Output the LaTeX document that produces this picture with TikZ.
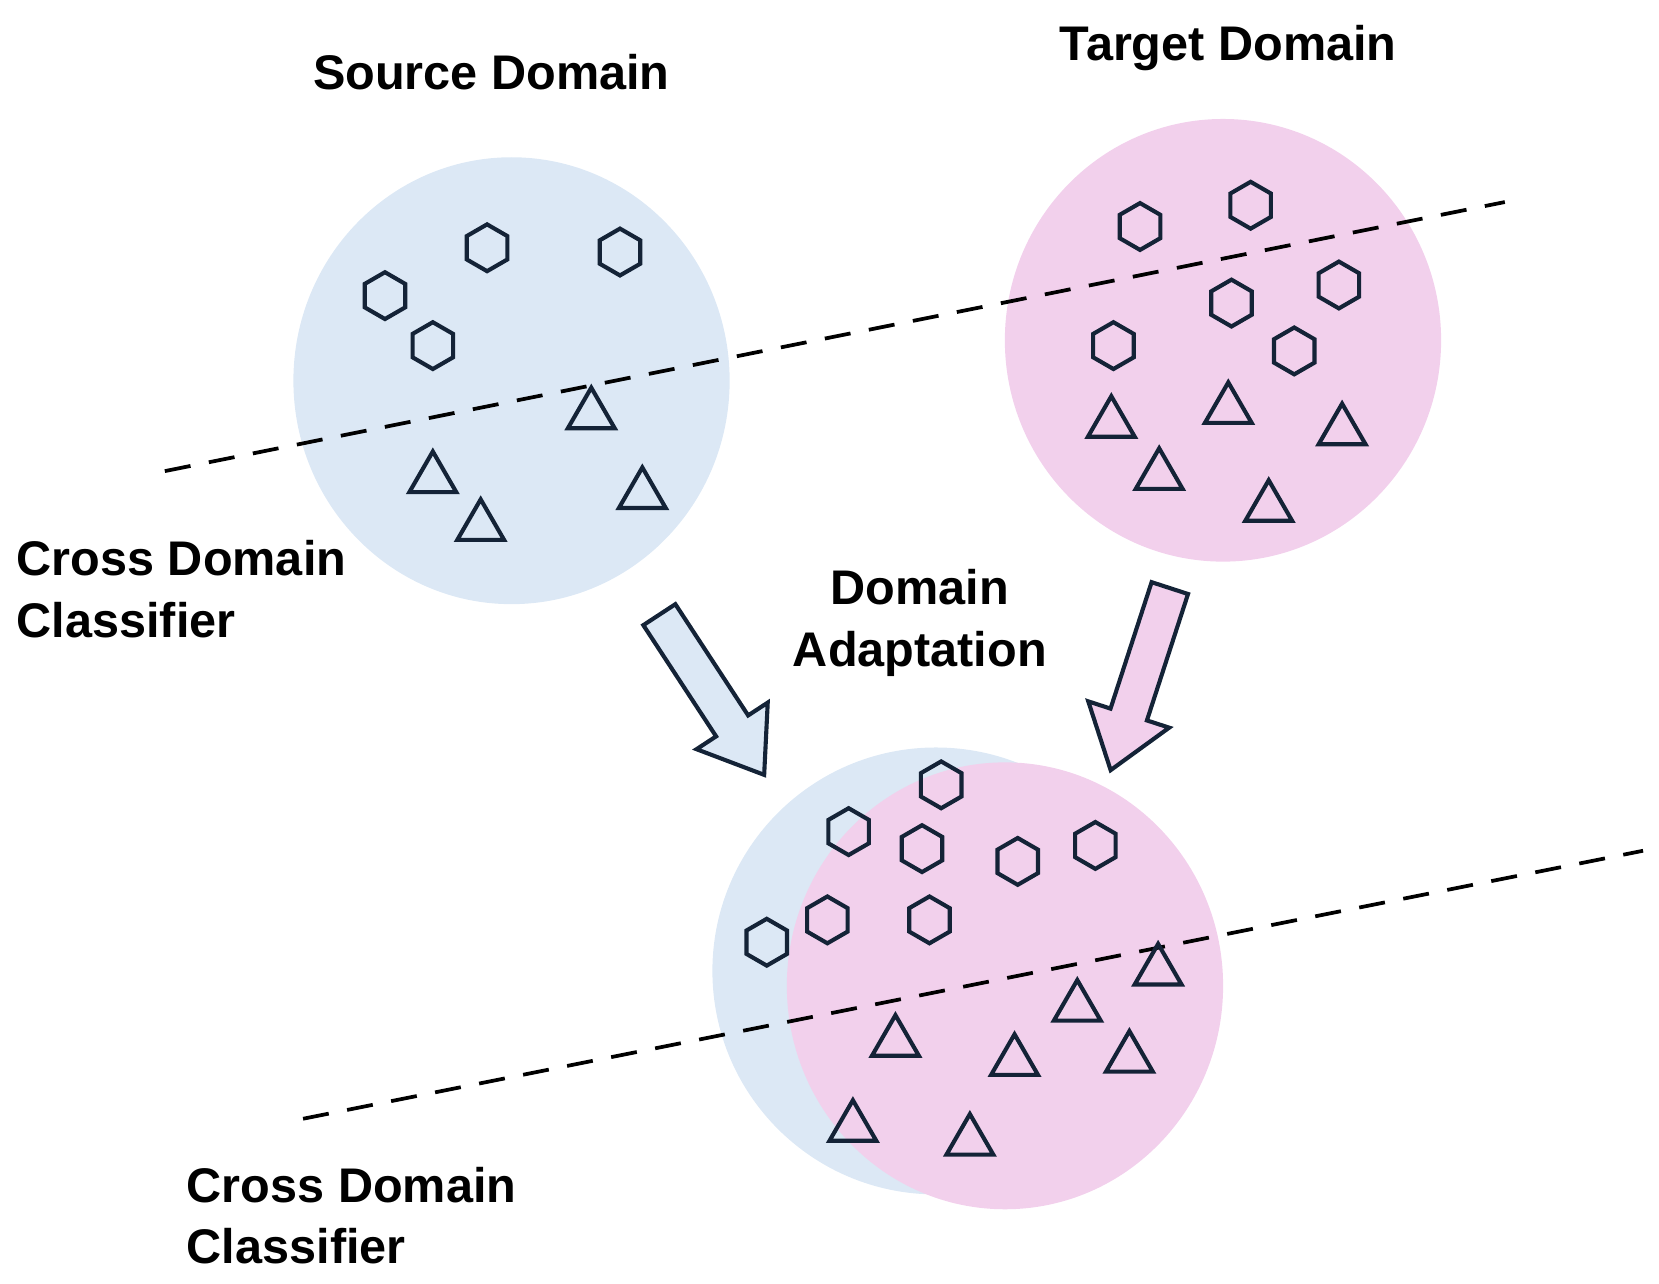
\documentclass[tikz,border=0pt]{standalone}
\usepackage{fontspec}
\setmainfont{Liberation Sans}
\usetikzlibrary{shapes.geometric,positioning}
\definecolor{srcblue}{RGB}{220,232,245}
\definecolor{tgtpink}{RGB}{242,208,236}
\definecolor{navy}{RGB}{20,35,55}

\begin{document}
\begin{tikzpicture}[x=0.01cm,y=-0.01cm]
			\useasboundingbox (0,0) rectangle (1560,1207);
			% Define the styles
			\tikzstyle{blob} = [draw=none, ellipse, inner sep=0pt];
			\tikzstyle{hexa} = [draw=navy, line width=1.1pt, regular polygon, regular polygon sides=6, shape border rotate=30, minimum size=0.44cm, inner sep=0pt];
			\tikzstyle{tri} = [draw=navy, line width=1.1pt, isosceles triangle, isosceles triangle apex angle=60, shape border rotate=90, minimum width=0.44cm, minimum height=0.38cm, inner sep=0pt];
			\tikzstyle{label} = [font=\bfseries\fontsize{13}{16.5}\selectfont, align=left, inner sep=0pt];
			\tikzstyle{bigarrow} = [draw=navy, line width=1.1pt, line join=miter];
			
			% Domains
			\node[blob, fill=srcblue, minimum width=4.1cm, minimum height=4.2cm] (src) at (481,358) {};
			\node[blob, fill=tgtpink, minimum width=4.1cm, minimum height=4.16cm] (tgt) at (1150,320) {};
			\node[blob, fill=srcblue, minimum width=4.2cm, minimum height=4.2cm] (mixsrc) at (880,913) {};
			\node[blob, fill=tgtpink, minimum width=4.1cm, minimum height=4.2cm] (mixtgt) at (945,927) {};
			
			% Classifier boundaries
			\coordinate (b1s) at (155,443);
			\coordinate (b1e) at (1415,190);
			\coordinate (b2s) at (285,1052);
			\coordinate (b2e) at (1545,800);
			\draw[line width=1pt, dash pattern=on 7pt off 5pt] (b1s) -- (b1e);
			\draw[line width=1pt, dash pattern=on 7pt off 5pt] (b2s) -- (b2e);
			
			% Samples
			\foreach \x/\y in {458/233, 583/237, 362/278, 407/325, 1072/213, 1176/193, 1158/285, 1259/268, 1047/325, 1217/330, 885/738, 798/782, 867/798, 957/810, 1030/795, 778/865, 874/865, 721/886}
			\node[hexa] at (\x,\y) {};
			\foreach \x/\y in {556/390, 407/450, 452/495, 604/465, 1045/398, 1155/385, 1262/405, 1090/447, 1193/477, 1089/913, 1013/947, 842/980, 954/998, 1062/995, 802/1060, 912/1073}
			\node[tri] at (\x,\y) {};
			
			% Adaptation arrows
			\foreach \c/\x/\y/\a in {srcblue/620/578/-56.8, tgtpink/1100/553/-108}
			\draw[bigarrow, fill=\c, shift={(\x,\y)}, rotate=\a] (0,-18) -- (125,-18) -- (125,-40) -- (180,0) -- (125,40) -- (125,18) -- (0,18) -- cycle;
			
			% Texts
			\node[label] (srclabel) at (462,68) {Source Domain};
			\node[label] (tgtlabel) at (1155,45) {Target Domain};
			\node[label, align=center] (adapt) at (865,586) {Domain\\Adaptation};
			\node[label, anchor=west] (cls1) at (15,554) {Cross Domain\\Classifier};
			\node[label, anchor=west] (cls2) at (175,1143) {Cross Domain\\Classifier};
		\end{tikzpicture}
\end{document}
